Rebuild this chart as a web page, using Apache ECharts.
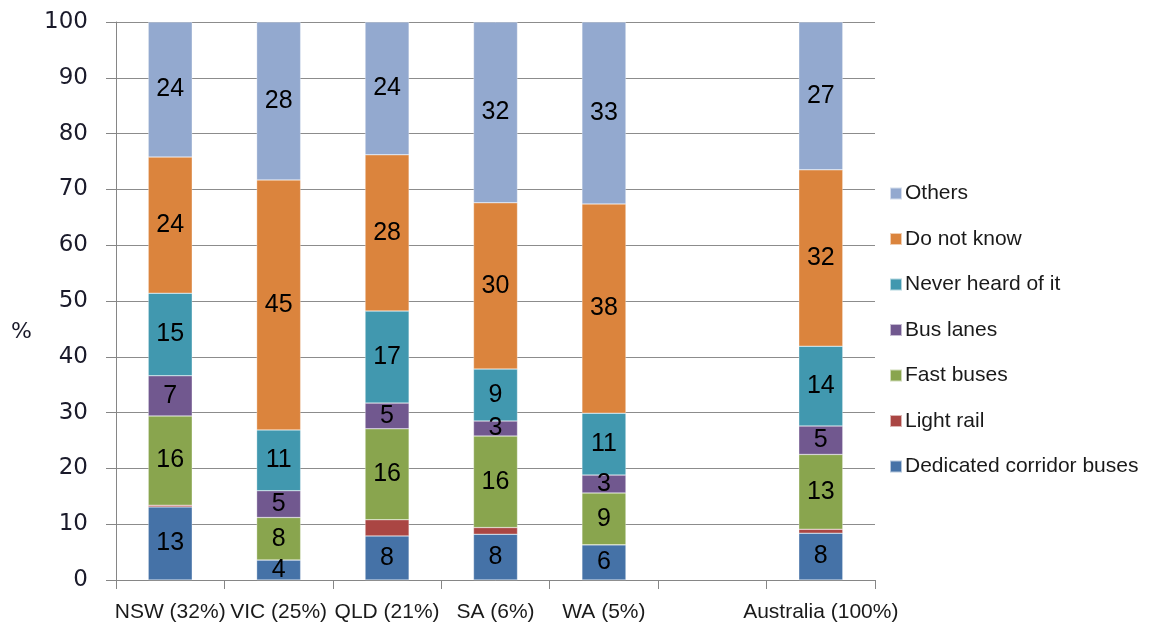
<!DOCTYPE html>
<html><head><meta charset="utf-8">
<script src="https://cdn.jsdelivr.net/npm/echarts@6/dist/echarts.min.js"></script>
<style>html,body{margin:0;padding:0;background:#fff}#c{width:1150px;height:628px}</style>
</head><body><div id="c"></div>
<script>
const categories = ['NSW (32%)', 'VIC (25%)', 'QLD (21%)', 'SA (6%)', 'WA (5%)', '', 'Australia (100%)'];
const dedicatedCorridorBuses = [13.1, 3.6, 7.9, 8.2, 6.3, null, 8.4];
const lightRail = [0.3, 0.0, 2.9, 1.2, 0.0, null, 0.7];
const fastBuses = [16.0, 7.6, 16.3, 16.4, 9.3, null, 13.4];
const busLanes = [7.2, 4.8, 4.6, 2.7, 3.2, null, 5.1];
const neverHeardOfIt = [14.8, 10.9, 16.5, 9.3, 11.1, null, 14.3];
const doNotKnow = [24.4, 44.8, 28.0, 29.8, 37.5, null, 31.6];
const others = [24.2, 28.3, 23.8, 32.4, 32.6, null, 26.5];
const yTicks = [0, 10, 20, 30, 40, 50, 60, 70, 80, 90, 100];

const seriesDefs = [
  {name: 'Dedicated corridor buses', data: dedicatedCorridorBuses, color: '#4572A7', label: true},
  {name: 'Light rail', data: lightRail, color: '#AA4643', label: false},
  {name: 'Fast buses', data: fastBuses, color: '#89A54E', label: true},
  {name: 'Bus lanes', data: busLanes, color: '#71588F', label: true},
  {name: 'Never heard of it', data: neverHeardOfIt, color: '#4198AF', label: true},
  {name: 'Do not know', data: doNotKnow, color: '#DB843D', label: true},
  {name: 'Others', data: others, color: '#93A9CF', label: true}
];

const FONT = 'Liberation Sans, Arial, sans-serif';
const chart = echarts.init(document.getElementById('c'), null, {renderer: 'canvas'});
chart.setOption({
  animation: false,
  backgroundColor: '#fff',
  grid: {left: 116, right: 275, top: 22, bottom: 48, containLabel: false},
  graphic: [{type: 'text', left: 11, top: 321, style: {text: '%', font: '22px "DejaVu Sans", sans-serif', fill: '#1a1a2a'}}],
  legend: {
    orient: 'vertical', left: 884, top: 178, itemGap: 24.5,
    itemWidth: 12, itemHeight: 12, icon: 'rect',
    data: seriesDefs.map(s => s.name).reverse(),
    textStyle: {fontFamily: FONT, fontSize: 21, color: '#1a1a1a', padding: [0, 0, 0, -2]}
  },
  xAxis: {
    type: 'category', data: categories,
    axisLine: {lineStyle: {color: '#868686', width: 1}},
    axisTick: {show: true, length: 9, lineStyle: {color: '#868686'}},
    axisLabel: {interval: 0, margin: 22, fontFamily: FONT, fontSize: 21, color: '#1a1a1a'}
  },
  yAxis: {
    type: 'value', min: 0, max: 100, interval: 10,
    axisLine: {show: true, lineStyle: {color: '#868686', width: 1}},
    axisTick: {show: true, length: 10, lineStyle: {color: '#868686'}},
    splitLine: {show: true, lineStyle: {color: '#8c8c8c', width: 1}},
    axisLabel: {margin: 28, fontFamily: 'DejaVu Sans, sans-serif', fontSize: 23, color: '#1a1a2a',
      formatter: v => yTicks.includes(v) ? String(v) : ''}
  },
  series: seriesDefs.map(s => ({
    name: s.name, type: 'bar', stack: 'total', barWidth: 44,
    data: s.data,
    itemStyle: {color: s.color, borderColor: 'rgba(255,255,255,0.6)', borderWidth: 0.5},
    label: {
      show: s.label, position: 'inside',
      fontFamily: FONT, fontSize: 25, color: '#000',
      formatter: p => (p.value == null || p.value === 0) ? '' : String(Math.round(p.value))
    }
  }))
});
</script></body></html>
